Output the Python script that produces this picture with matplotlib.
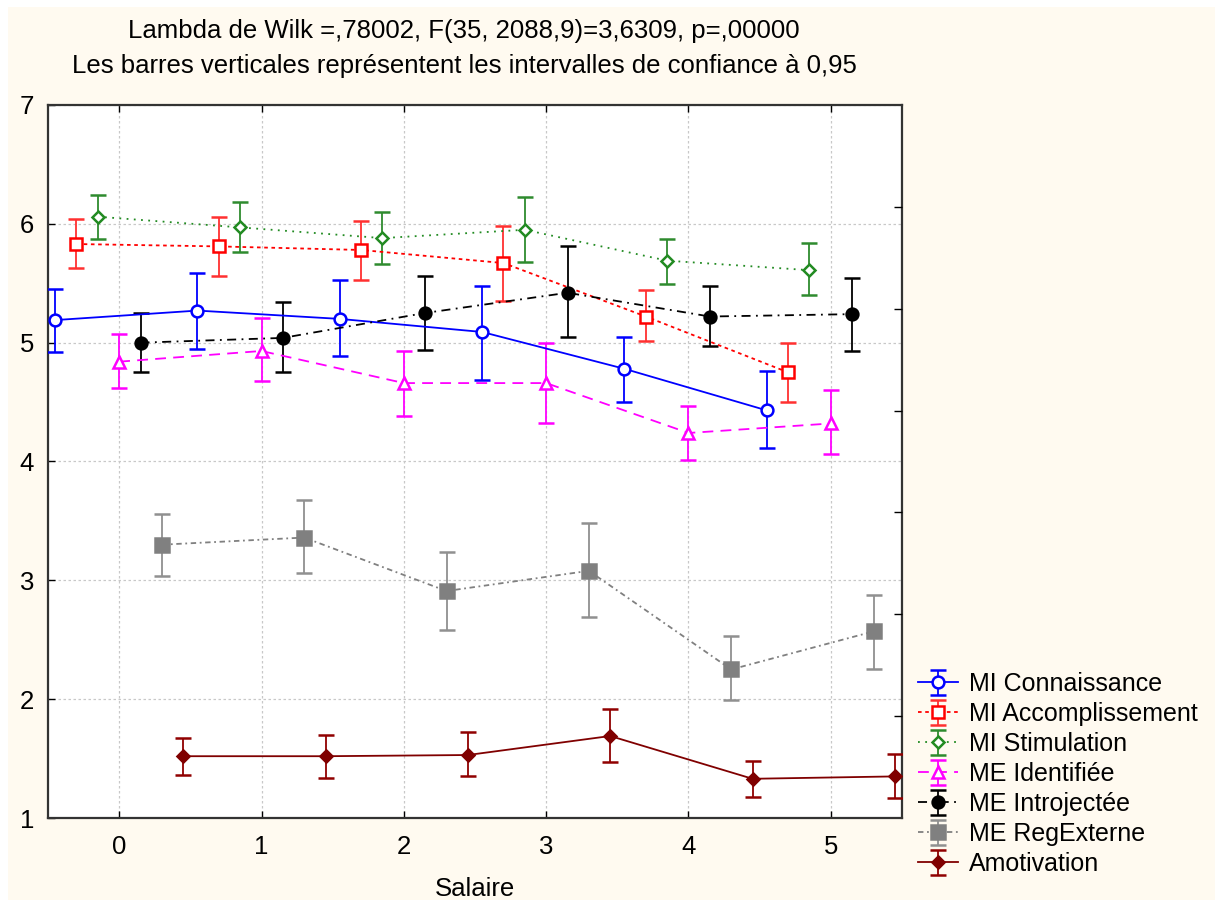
import matplotlib
matplotlib.use("Agg")
import matplotlib.pyplot as plt
from matplotlib.patches import Rectangle
import numpy as np

plt.rcParams['font.family'] = ['Liberation Sans', 'DejaVu Sans']

salaire = [0, 1, 2, 3, 4, 5]
series = ["MI Connaissance", "MI Accomplissement", "MI Stimulation", "ME Identifiée",
          "ME Introjectée", "ME RegExterne", "Amotivation"]

conn_mean = [5.19, 5.27, 5.20, 5.09, 4.78, 4.43]
conn_lo = [4.92, 4.95, 4.89, 4.69, 4.50, 4.11]
conn_hi = [5.45, 5.59, 5.53, 5.48, 5.05, 4.76]

acc_mean = [5.83, 5.81, 5.78, 5.67, 5.22, 4.75]
acc_lo = [5.63, 5.56, 5.53, 5.35, 5.01, 4.50]
acc_hi = [6.04, 6.06, 6.02, 5.98, 5.44, 5.00]

stim_mean = [6.06, 5.97, 5.88, 5.95, 5.69, 5.61]
stim_lo = [5.87, 5.76, 5.66, 5.68, 5.49, 5.40]
stim_hi = [6.24, 6.18, 6.10, 6.23, 5.87, 5.84]

iden_mean = [4.84, 4.93, 4.66, 4.66, 4.24, 4.32]
iden_lo = [4.62, 4.68, 4.38, 4.32, 4.01, 4.06]
iden_hi = [5.07, 5.21, 4.93, 5.00, 4.47, 4.60]

intro_mean = [5.00, 5.04, 5.25, 5.42, 5.22, 5.24]
intro_lo = [4.75, 4.75, 4.94, 5.05, 4.97, 4.93]
intro_hi = [5.25, 5.34, 5.56, 5.81, 5.48, 5.54]

reg_mean = [3.30, 3.36, 2.91, 3.08, 2.25, 2.57]
reg_lo = [3.04, 3.06, 2.58, 2.69, 1.99, 2.25]
reg_hi = [3.56, 3.68, 3.24, 3.48, 2.53, 2.88]

amo_mean = [1.52, 1.52, 1.53, 1.69, 1.33, 1.35]
amo_lo = [1.36, 1.34, 1.35, 1.47, 1.18, 1.17]
amo_hi = [1.67, 1.70, 1.72, 1.92, 1.48, 1.54]

means = [conn_mean, acc_mean, stim_mean, iden_mean, intro_mean, reg_mean, amo_mean]
los = [conn_lo, acc_lo, stim_lo, iden_lo, intro_lo, reg_lo, amo_lo]
his = [conn_hi, acc_hi, stim_hi, iden_hi, intro_hi, reg_hi, amo_hi]

offsets = [-0.45, -0.30, -0.15, 0.0, 0.15, 0.30, 0.45]
colors = ['#0000ff', '#ff0000', '#228b22', '#ff00ff', '#000000', '#808080', '#800000']
ecolors = ['#0000ff', '#ff3030', '#2e8b2e', '#ff00ff', '#000000', '#909090', '#900000']
markers = ['o', 's', 'D', '^', 'o', 's', 'D']
msizes = [8.5, 8.5, 6.5, 8.5, 8.5, 9.5, 6.5]
filled = [False, False, False, False, True, True, True]
lstyles = ['-', (0, (2, 2)), (0, (1, 3)), (0, (6, 4)), (0, (5, 3, 1, 3)),
           (0, (3, 2, 1, 2)), '-']

FS = 18.5

fig = plt.figure(figsize=(12.15, 9.06), dpi=100)
fig.patch.set_facecolor('white')
fig.patches.append(Rectangle((8 / 1215, 6 / 906), 1 - 8 / 1215, 1 - 13 / 906,
                             transform=fig.transFigure, facecolor='#fffaf0',
                             edgecolor='none', zorder=-10))

ax = fig.add_axes([48 / 1215, 1 - 818 / 906, (902 - 48) / 1215, (818 - 105) / 906])
ax.set_facecolor('white')

x = np.array(salaire, dtype=float)
for i, name in enumerate(series):
    m = np.array(means[i])
    lo = np.array(los[i])
    hi = np.array(his[i])
    ax.errorbar(x + offsets[i], m, yerr=[m - lo, hi - m], color=colors[i],
                ecolor=ecolors[i], elinewidth=1.3, capsize=5.5, capthick=1.3,
                linestyle=lstyles[i], linewidth=1.3, marker=markers[i],
                markersize=msizes[i], markeredgewidth=1.8,
                markerfacecolor=(colors[i] if filled[i] else 'white'),
                markeredgecolor=colors[i], label=name, zorder=3)

ax.set_xlim(-0.5, 5.5)
ax.set_ylim(1, 7)
ax.set_xticks(salaire)
ax.set_yticks([1, 2, 3, 4, 5, 6, 7])
ax.grid(True, color='#c8c8c8', linestyle=(0, (2, 2)), linewidth=0.9, zorder=0)
ax.tick_params(axis='both', direction='in', length=5, width=1, labelsize=FS,
               top=True, right=False)
ax.tick_params(axis='x', pad=12)
ax.tick_params(axis='y', pad=10)
for sp in ax.spines.values():
    sp.set_linewidth(1.6)
    sp.set_color('#333333')

ax2 = ax.twinx()
ax2.set_ylim(0, 7)
ax2.set_yticks([1, 2, 3, 4, 5, 6])
ax2.tick_params(axis='y', direction='in', length=6, width=1, labelright=False)
for sp in ax2.spines.values():
    sp.set_visible(False)

ax.set_xlabel("Salaire", fontsize=FS, labelpad=13)

fig.text(464 / 1215, 1 - 31 / 906, "Lambda de Wilk =,78002, F(35, 2088,9)=3,6309, p=,00000",
         ha='center', va='center', fontsize=FS)
fig.text(464 / 1215, 1 - 66 / 906, "Les barres verticales représentent les intervalles de confiance à 0,95",
         ha='center', va='center', fontsize=FS)

handles, labels = ax.get_legend_handles_labels()
fig.legend(handles, labels, loc='upper left', bbox_to_anchor=(918 / 1215, 1 - 672 / 906),
           frameon=False, fontsize=18, handlelength=1.6, handletextpad=0.45,
           labelspacing=0.24, borderaxespad=0, borderpad=0)

fig.savefig("out.png", dpi=100, facecolor=fig.get_facecolor())
